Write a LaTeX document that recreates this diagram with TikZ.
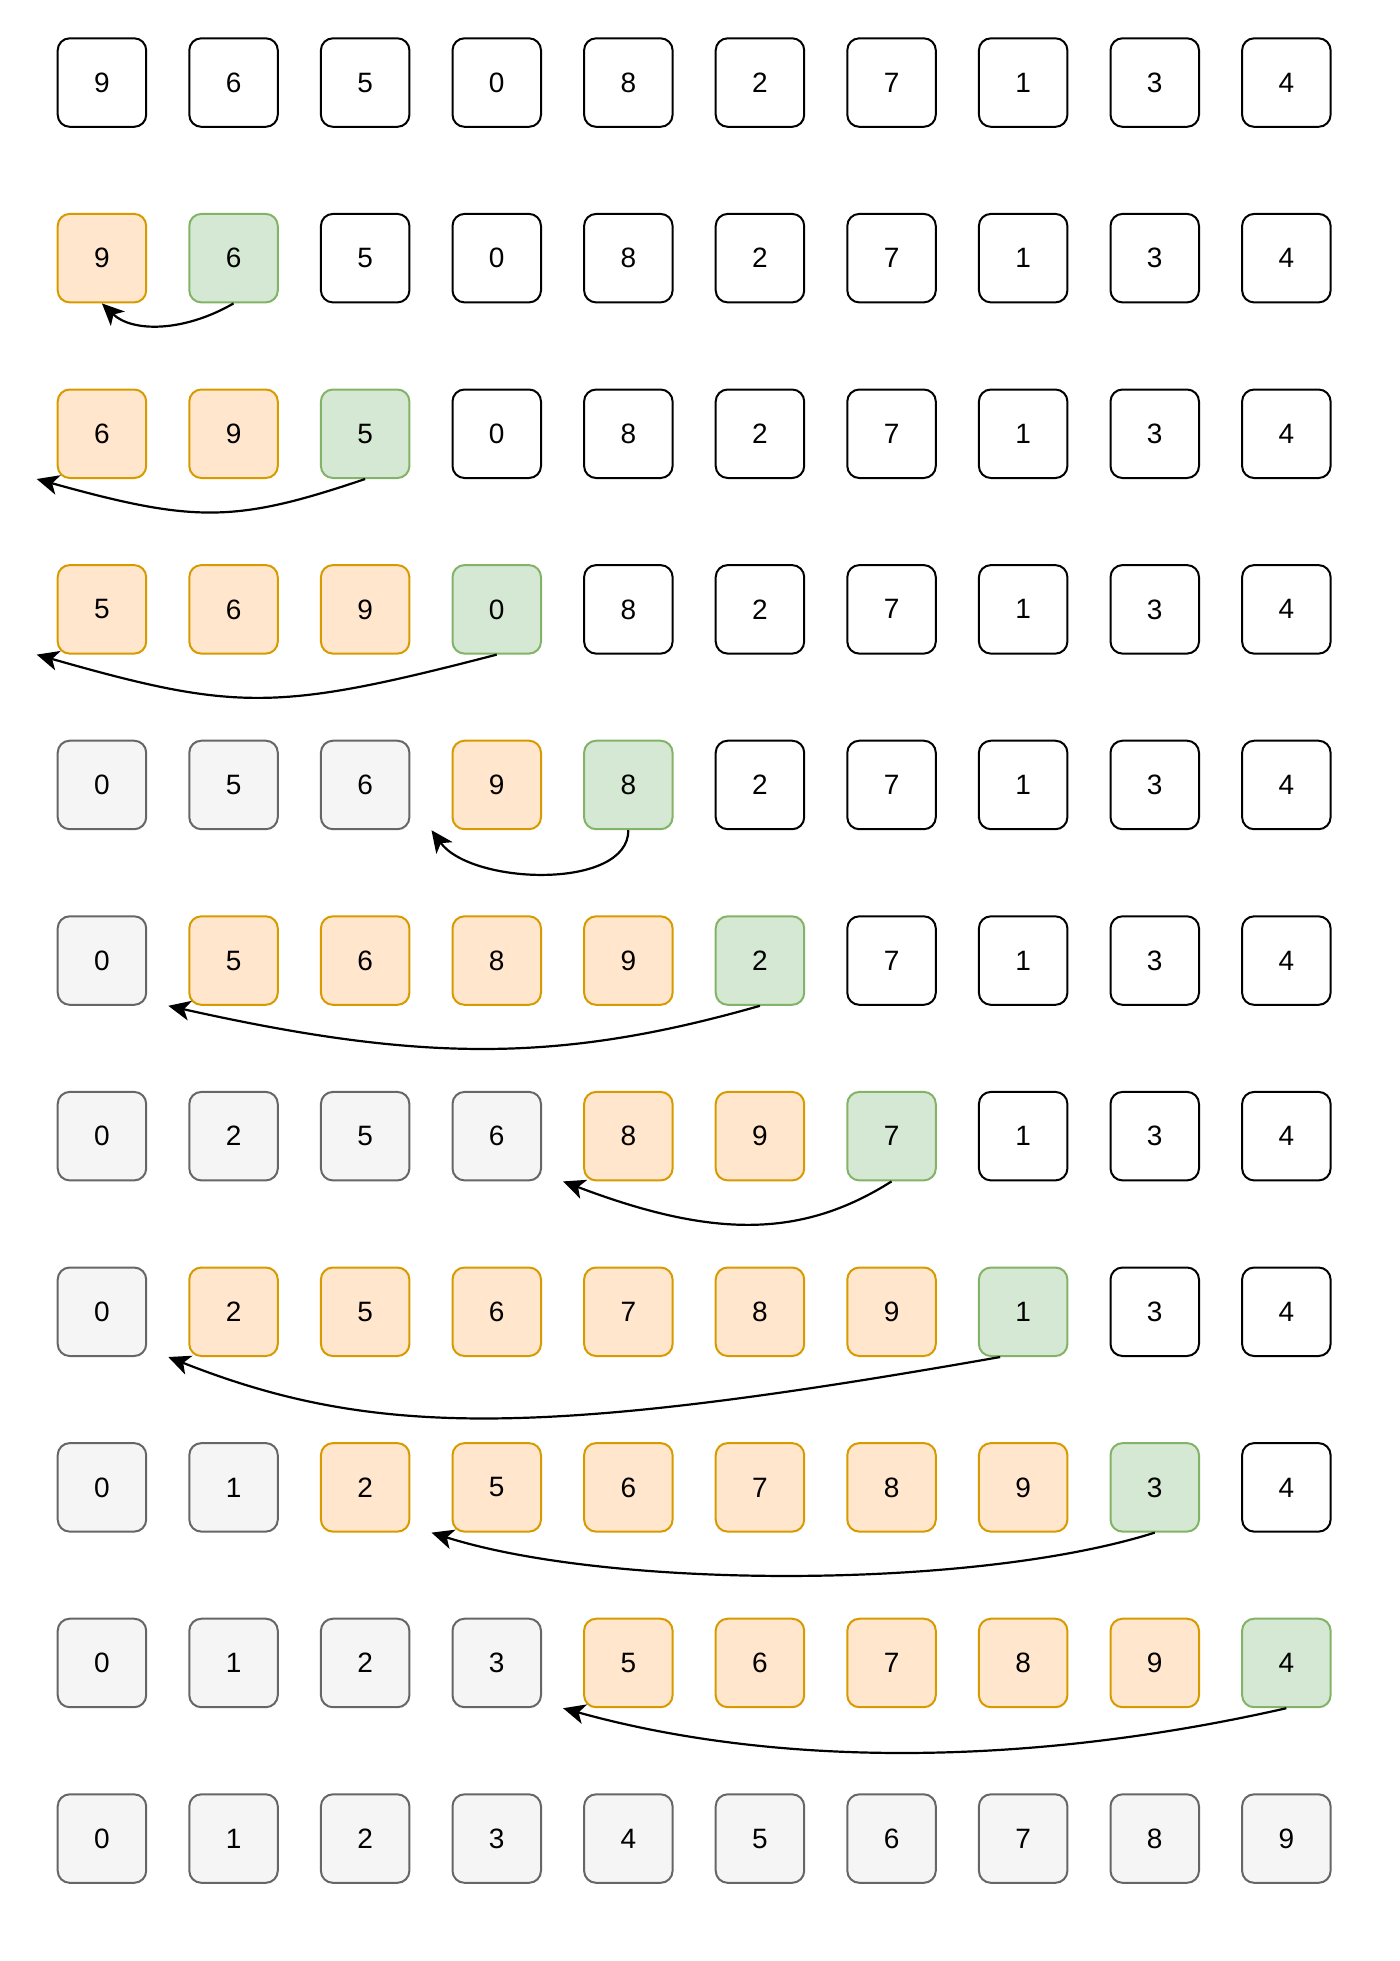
\documentclass[tikz,border=0pt]{standalone}
\usepackage{fontspec}
\setmainfont{Liberation Sans}
\usetikzlibrary{arrows.meta}
\definecolor{fillu}{HTML}{FFFFFF}\definecolor{lineu}{HTML}{000000}
\definecolor{fills}{HTML}{FFE6CC}\definecolor{lines}{HTML}{D79B00}
\definecolor{fillk}{HTML}{D5E8D4}\definecolor{linek}{HTML}{82B366}
\definecolor{filld}{HTML}{F5F5F5}\definecolor{lined}{HTML}{666666}
\begin{document}
\begin{tikzpicture}[x=0.5pt, y=-0.5pt,
  o/.style={rounded corners=6pt, line width=1pt, minimum size=44.25pt, inner sep=0pt, font=\fontsize{14}{16}\selectfont},
  muiten/.style={line width=1.1pt, -{Stealth[length=11pt,width=10pt,inset=3pt]}}]
\useasboundingbox (0,0) rectangle (1400,1961);
% Vẽ các ô của từng bước
\foreach \hang [count=\r from 0] in {
  {9/u,6/u,5/u,0/u,8/u,2/u,7/u,1/u,3/u,4/u},
  {9/s,6/k,5/u,0/u,8/u,2/u,7/u,1/u,3/u,4/u},
  {6/s,9/s,5/k,0/u,8/u,2/u,7/u,1/u,3/u,4/u},
  {5/s,6/s,9/s,0/k,8/u,2/u,7/u,1/u,3/u,4/u},
  {0/d,5/d,6/d,9/s,8/k,2/u,7/u,1/u,3/u,4/u},
  {0/d,5/s,6/s,8/s,9/s,2/k,7/u,1/u,3/u,4/u},
  {0/d,2/d,5/d,6/d,8/s,9/s,7/k,1/u,3/u,4/u},
  {0/d,2/s,5/s,6/s,7/s,8/s,9/s,1/k,3/u,4/u},
  {0/d,1/d,2/s,5/s,6/s,7/s,8/s,9/s,3/k,4/u},
  {0/d,1/d,2/d,3/d,5/s,6/s,7/s,8/s,9/s,4/k},
  {0/d,1/d,2/d,3/d,4/d,5/d,6/d,7/d,8/d,9/d}} {
  \foreach \v/\m [count=\c from 0] in \hang {
    \node[o, fill=fill\m, draw=line\m] (o\r-\c) at ({101.95+131.6*\c},{82.55+175.6*\r}) {\v};
  }
}
% Vẽ các mũi tên chèn
\draw[muiten] (o1-1.south) .. controls +(-50,29) and +(30,29) .. (o1-0.south);
\draw[muiten] (o2-2.south) .. controls +(-130,44) and +(158,44) .. ([xshift=-10pt]o2-0.south west);
\draw[muiten] (o3-3.south) .. controls +(-220,57) and +(200,57) .. ([xshift=-10pt]o3-0.south west);
\draw[muiten] (o4-4.south) .. controls +(0,60) and +(40,55) .. ([xshift=-10pt]o4-3.south west);
\draw[muiten] (o5-5.south) .. controls +(-200,57) and +(255,57) .. ([xshift=-10pt]o5-1.south west);
\draw[muiten] (o6-6.south) .. controls +(-90,57) and +(150,57) .. ([xshift=-10pt]o6-4.south west);
\draw[muiten] ([xshift=-11.5pt]o7-7.south) .. controls +(-460,81) and +(205,81) .. ([xshift=-10pt]o7-1.south west);
\draw[muiten] (o8-8.south) .. controls +(-180,57) and +(180,57) .. ([xshift=-10pt]o8-3.south west);
\draw[muiten] (o9-9.south) .. controls +(-260,59) and +(212,59) .. ([xshift=-10pt]o9-4.south west);
\end{tikzpicture}
\end{document}
